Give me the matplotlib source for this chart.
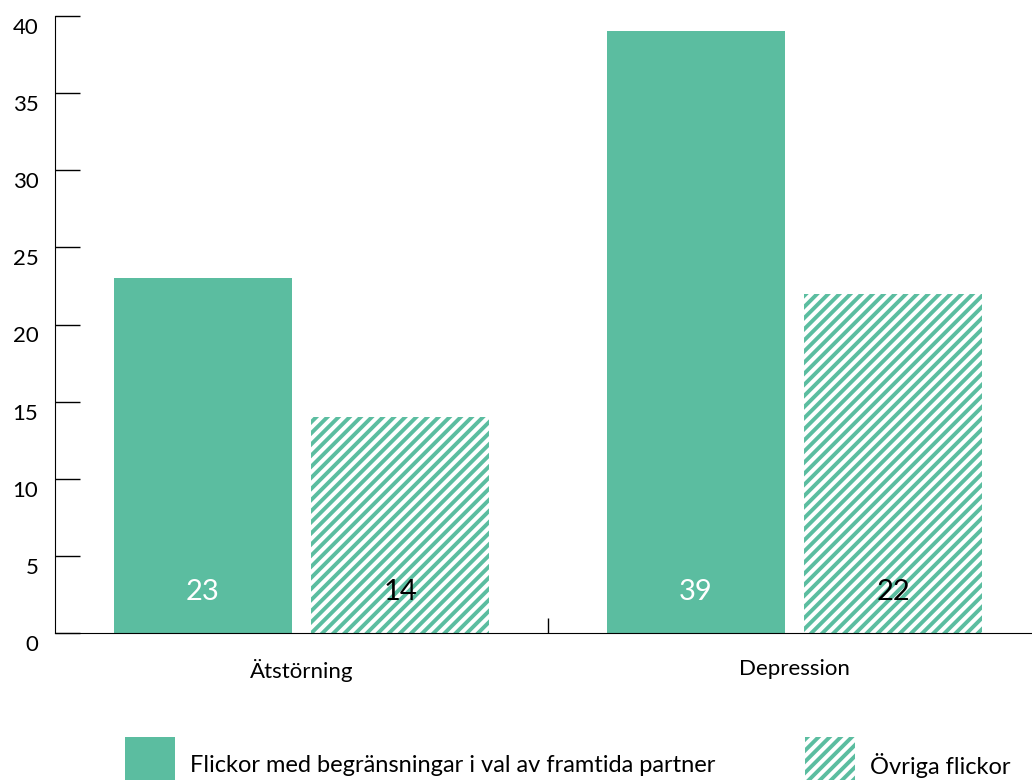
import matplotlib
matplotlib.use("Agg")
import matplotlib.pyplot as plt
import matplotlib.transforms as mtransforms
from matplotlib.patches import Rectangle
import numpy as np

plt.rcParams['font.family'] = ['Lato', 'DejaVu Sans']
plt.rcParams['hatch.linewidth'] = 2.8

categories = ["Ätstörning", "Depression"]
series_names = ["Flickor med begränsningar i val av framtida partner", "Övriga flickor"]
restricted = [23, 39]
others = [14, 22]

green = "#5bbda0"

fig = plt.figure(figsize=(10.32, 7.8), dpi=100)
ax = fig.add_axes([55 / 1032, 147 / 780, 986 / 1032, 617 / 780])

x = np.arange(len(categories))
w = 0.36
b1 = ax.bar(x - 0.2, restricted, w, color=green, edgecolor="none")
b2 = ax.bar(x + 0.2, others, w, color="white", edgecolor=green, hatch="///", linewidth=0)

for rect, v in zip(b1, restricted):
    ax.text(rect.get_x() + rect.get_width() / 2, 2.65, str(v), ha="center", va="center",
            color="white", fontsize=21)
for rect, v in zip(b2, others):
    ax.text(rect.get_x() + rect.get_width() / 2, 2.65, str(v), ha="center", va="center",
            color="black", fontsize=21)

ax.set_xlim(-0.5, 1.5)
ax.set_ylim(0, 40)
ax.set_yticks(range(0, 41, 5))
ax.tick_params(axis="y", direction="in", length=18, width=1, pad=12, labelsize=16)
ax.set_xticks(x)
ax.set_xticklabels(categories)
ax.tick_params(axis="x", length=0, pad=19, labelsize=16)
ax.set_xticks([0.5], minor=True)
ax.tick_params(axis="x", which="minor", direction="in", length=11, width=1)

# shift y labels slightly down like the original
offset = mtransforms.ScaledTranslation(0, -10 / 100, fig.dpi_scale_trans)
for lbl in ax.get_yticklabels():
    lbl.set_transform(lbl.get_transform() + offset)

for s in ["top", "right"]:
    ax.spines[s].set_visible(False)

# legend
fig.add_artist(Rectangle((125 / 1032, 0), 50 / 1032, 43 / 780, transform=fig.transFigure,
                         facecolor=green, edgecolor="none"))
fig.add_artist(Rectangle((805 / 1032, 0), 50 / 1032, 43 / 780, transform=fig.transFigure,
                         facecolor="white", edgecolor=green, hatch="///", linewidth=0))
fig.text(190 / 1032, 15 / 780, series_names[0], fontsize=17, va="center")
fig.text(870 / 1032, 15 / 780, series_names[1], fontsize=17, va="center")

fig.savefig("out.png", dpi=100)
